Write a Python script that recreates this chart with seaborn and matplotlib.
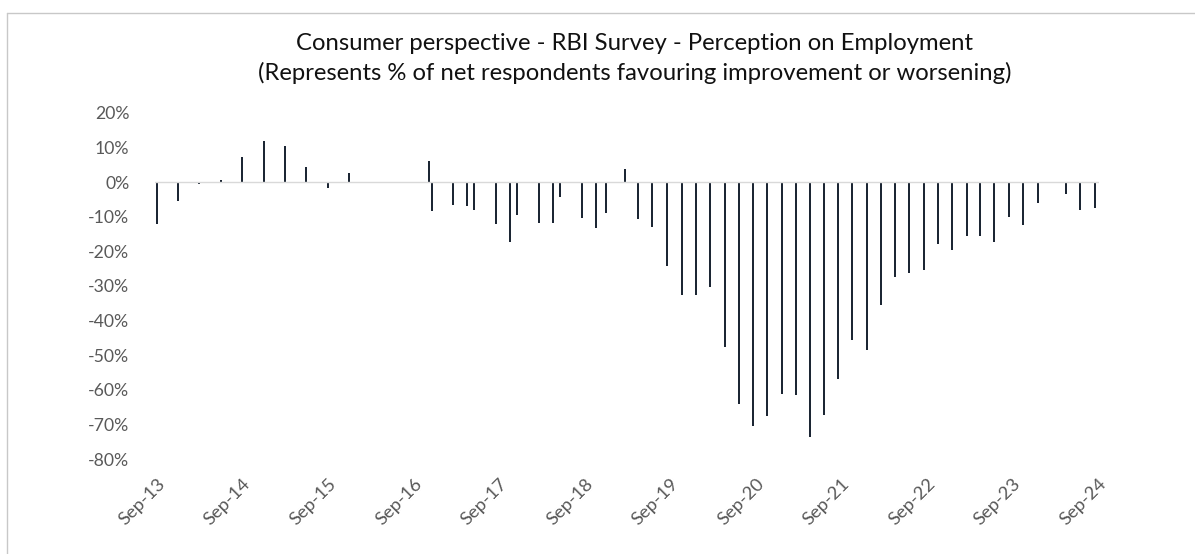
import numpy as np
import pandas as pd
import matplotlib
matplotlib.use("Agg")
import matplotlib.pyplot as plt
from matplotlib.lines import Line2D
import matplotlib.transforms as mtransforms
import seaborn as sns

# ---------------- data ----------------
survey_dates = [
    "2013-09-01", "2013-12-01", "2014-03-01", "2014-06-01", "2014-09-01", "2014-12-01",
    "2015-03-01", "2015-06-01", "2015-09-01", "2015-12-01",
    "2016-02-19", "2016-05-20", "2016-08-21", "2016-11-04", "2016-11-20",
    "2017-02-18", "2017-04-17", "2017-05-18", "2017-08-19", "2017-10-18", "2017-11-18",
    "2018-02-17", "2018-04-18", "2018-05-17", "2018-08-19", "2018-10-18", "2018-12-01",
    "2019-02-19", "2019-04-16", "2019-06-17", "2019-08-16", "2019-10-19", "2019-12-18",
    "2020-02-18", "2020-04-20", "2020-06-20", "2020-08-19", "2020-10-19", "2020-12-19",
    "2021-02-18", "2021-04-18", "2021-06-16", "2021-08-18", "2021-10-17", "2021-12-18",
    "2022-02-14", "2022-04-18", "2022-06-16", "2022-08-18", "2022-10-18", "2022-12-17",
    "2023-02-17", "2023-04-15", "2023-06-15", "2023-08-16", "2023-10-16", "2023-12-16",
    "2024-02-17", "2024-04-15", "2024-06-15", "2024-08-17",
]
net_employment_pct = [
    -12.0, -5.4, -0.6, 0.6, 7.3, 11.9,
    10.3, 4.3, -1.7, 2.7,
    -0.3, -0.3, -0.3, 6.2, -8.4,
    -6.5, -7.0, -8.1, -12.0, -17.2, -9.5,
    -11.7, -11.8, -4.3, -10.4, -13.3, -8.8,
    3.9, -10.6, -13.0, -24.3, -32.7, -32.7,
    -30.2, -47.6, -64.1, -70.5, -67.5, -61.3,
    -61.4, -73.7, -67.2, -56.7, -45.7, -48.4,
    -35.5, -27.3, -26.2, -25.4, -17.8, -19.7,
    -15.6, -15.5, -17.3, -10.1, -12.3, -6.1,
    -0.2, -3.4, -8.1, -7.4,
]
tick_years = list(range(2013, 2025))
y_ticks_pct = [-80, -70, -60, -50, -40, -30, -20, -10, 0, 10, 20]
title_line1 = "Consumer perspective - RBI Survey - Perception on Employment"
title_line2 = "(Represents % of net respondents favouring improvement or worsening)"

# ---------------- build ----------------
origin = pd.Timestamp("2013-09-01")
df = pd.DataFrame({
    "date": pd.to_datetime(survey_dates),
    "value": net_employment_pct,
})
df["day"] = (df["date"] - origin).dt.days.astype(float)

sns.set_theme(style="white")
plt.rcParams["font.family"] = ["Lato", "DejaVu Sans"]

W, H = 1195, 554
fig = plt.figure(figsize=(W / 100, H / 100), dpi=100)
ax_left, ax_right = 155.0, 1098.5
ax_top, ax_bottom = 112.7, 459.3
ax = fig.add_axes([ax_left / W, 1 - ax_bottom / H,
                   (ax_right - ax_left) / W, (ax_bottom - ax_top) / H])

bar_days = 8.5
min_gap = np.diff(np.sort(df["day"].values)).min()
sns.barplot(data=df, x="day", y="value", native_scale=True, ax=ax,
            color="#1c2634", saturation=1, width=bar_days / min_gap,
            linewidth=0, errorbar=None)

ax.axhline(0, color="#d9d9d9", lw=1.0, zorder=5)

ax.set_xlim(df["day"].min() - 7.5, df["day"].max() + 7.5)
ax.set_ylim(-80, 20)

tick_dates = [pd.Timestamp(f"{y}-09-01") for y in tick_years]
ax.set_xticks([(d - origin).days for d in tick_dates])
ax.set_xticklabels([d.strftime("%b-%y") for d in tick_dates],
                   rotation=45, ha="right", va="top", rotation_mode="anchor",
                   fontsize=13.2, color="#595959")
shift = mtransforms.ScaledTranslation(-8 / 100, 2 / 100, fig.dpi_scale_trans)
for lab in ax.get_xticklabels():
    lab.set_transform(lab.get_transform() + shift)
ax.set_yticks(y_ticks_pct)
ax.set_yticklabels([f"{v}%" for v in y_ticks_pct], fontsize=12.7, color="#595959")
ax.tick_params(axis="x", length=0, pad=11.5)
ax.tick_params(axis="y", length=0, pad=18.5)
ax.set_xlabel("")
ax.set_ylabel("")
for s in ax.spines.values():
    s.set_visible(False)
ax.grid(False)

# chart-area border (top and left visible)
fig.add_artist(Line2D([7.3 / W, 1.01], [1 - 12.7 / H, 1 - 12.7 / H],
                      transform=fig.transFigure, color="#c8c8c8", lw=1.0))
fig.add_artist(Line2D([7.3 / W, 7.3 / W], [1 - 12.7 / H, -0.01],
                      transform=fig.transFigure, color="#c8c8c8", lw=1.0))

fig.text(635 / W, 1 - 50 / H, title_line1, ha="center", va="baseline",
         fontsize=17.2, color="#111111")
fig.text(635 / W, 1 - 80 / H, title_line2, ha="center", va="baseline",
         fontsize=17.2, color="#111111")

fig.savefig("out.png", dpi=100)
